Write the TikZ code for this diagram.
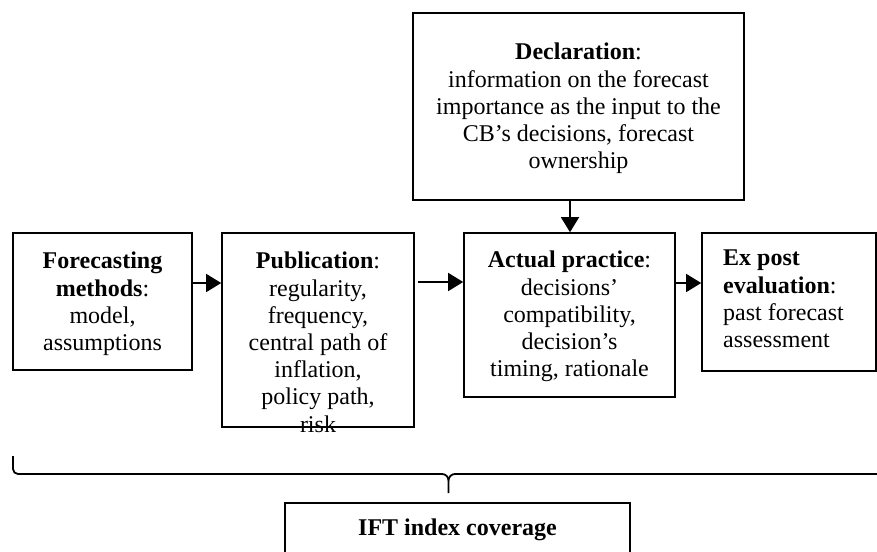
\documentclass[tikz,border=0pt]{standalone}
\usepackage{fontspec}
\setmainfont{Liberation Serif}
\usetikzlibrary{arrows.meta,calc}
\begin{document}
\begin{tikzpicture}[x=1pt,y=-1pt,
  boxnode/.style={draw,line width=1.6pt,inner sep=0pt},
  txt/.style={inner sep=0pt,font=\fontsize{24}{27.2}\selectfont},
  arr/.style={line width=1.5pt,-{Triangle[length=15pt,width=18pt]}},
  bracestyle/.style={line width=1.8pt}]
\clip (0,0) rectangle (877,551);
% boxes
\node[boxnode,minimum width=179pt,minimum height=137pt] (fm)  at (102.5,301.5) {};
\node[boxnode,minimum width=192pt,minimum height=194pt] (pub) at (318,330) {};
\node[boxnode,minimum width=211pt,minimum height=164pt] (act) at (569.5,315) {};
\node[boxnode,minimum width=174pt,minimum height=138pt] (ex)  at (789,302) {};
\node[boxnode,minimum width=331pt,minimum height=187pt] (dec) at (578.5,106.5) {};
\node[boxnode,minimum width=345pt,minimum height=80pt]  (ift) at (457.5,543) {};
% texts
\node[txt,anchor=north,align=center] (fmt) at (102.5,252)
  {\textbf{Forecasting}\\\textbf{methods}:\\model,\\assumptions};
\node[txt,anchor=north,align=center] (pubt) at (318,252)
  {\textbf{Publication}:\\regularity,\\frequency,\\central path of\\inflation,\\policy path,\\risk};
\node[txt,anchor=north,align=center] (actt) at (569.5,251)
  {\textbf{Actual practice}:\\decisions’\\compatibility,\\decision’s\\timing, rationale};
\node[txt,anchor=north west,align=left] (ext) at (723,250)
  {\textbf{Ex post}\\\textbf{evaluation}:\\past forecast\\assessment};
\node[txt,anchor=north,align=center] (dect) at (578.5,43)
  {\textbf{Declaration}:\\information on the forecast\\importance as the input to the\\CB’s decisions, forecast\\ownership};
\node[txt,anchor=base] (iftt) at (457.5,535) {\textbf{IFT index coverage}};
% connectors
\coordinate (ya) at (0,283);
\coordinate (yb) at (0,282);
\draw[arr] (fm.east |- ya) -- (pub.west |- ya);
\draw[arr] ([xshift=3pt]pub.east |- yb) -- (act.west |- yb);
\draw[arr] (act.east |- ya) -- (ex.west |- ya);
\coordinate (xd) at (570,0);
\draw[arr] (dec.south -| xd) -- (act.north -| xd);
% brace
\coordinate (bl) at (13,456);
\coordinate (bc) at (448.5,493);
\coordinate (br) at (880,474);
\draw[bracestyle] (bl) -- (13,469) to[out=-90,in=180] (18,474) -- (442,474)
   to[out=0,in=90] (448.5,480.5) -- (bc);
\draw[bracestyle] (448.5,480.5) to[out=90,in=180] (455,474) -- (br);
\end{tikzpicture}
\end{document}
